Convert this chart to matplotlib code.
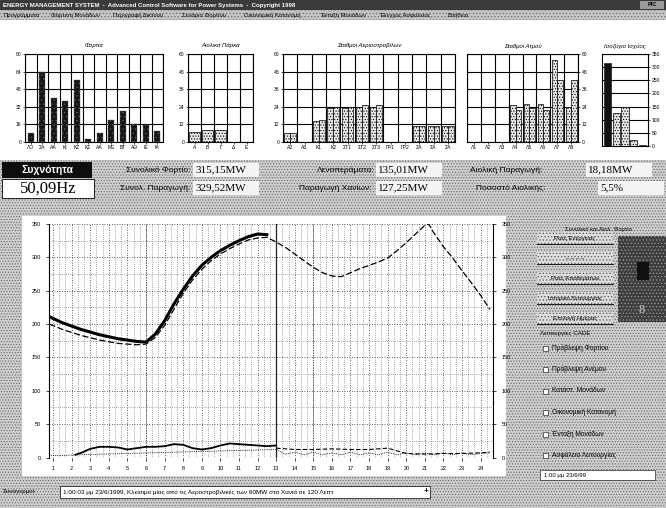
import numpy as np
import matplotlib.pyplot as plt
from matplotlib.patches import Rectangle

plt.rcParams['font.family'] = ['Liberation Sans', 'DejaVu Sans']
plt.rcParams['hatch.linewidth'] = 0.5

# ---- data ----
# top bar charts
units_load = ['ΛΟ', 'ΣΑ', 'ΑΑ', 'ΚΙ', 'ΚΖ', 'ΚΣ', 'ΑΑ', 'ΜΕ', 'ΒΤ', 'ΑΘ', 'ΙΕ', 'ΙΑ']
load_mw = [8.5, 64, 40, 37, 56, 2.5, 8.5, 20, 28, 16, 15, 10]

wind_parks = ['Α', 'Β', 'Γ', 'Δ', 'Ε']
wind_mw = [7, 8, 8, 0, 0]

gas_units = ['Α2', 'Α3', 'Κ1', 'Κ2', 'ΣΤ1', 'ΣΤ2', 'ΣΤ3', 'ΓΡ1', 'ΓΡ2', 'ΣΑ', 'ΣΑ', 'ΣΑ']
gas_a = [6, 0, 14, 23, 23, 24, 24, 0, 0, 11, 11, 11]
gas_b = [6, 0, 15, 24, 24, 25, 25, 0, 0, 11, 11, 11]

steam_units = ['Λ1', 'Λ2', 'Λ3', 'Λ4', 'Λ5', 'Λ6', 'Λ7', 'Λ8']
steam_a = [0, 0, 0, 25, 26, 26, 56, 24]
steam_b = [0, 0, 0, 22, 23, 22, 42, 42]

balance_mw = [315, 125, 148, 22, 5]

# main chart: hourly load (actual until current time, forecast for the day)
hours_actual = [0.8, 1.5, 2.5, 3.5, 4.5, 5.5, 6.0, 6.5, 7.0, 7.5, 8.0, 8.5, 9.0,
                9.5, 10.0, 10.5, 11.0, 11.5, 12.0, 12.5]
load_actual = [211, 202, 192, 184, 178, 174, 173, 185, 205, 230, 252, 272, 288,
               300, 310, 318, 325, 331, 335, 334]

hours_fc = [0.8, 1.5, 2.5, 3.5, 4.5, 5.5, 6.0, 6.5, 7.0, 7.5, 8.0, 8.5, 9.0, 9.5,
            10.0, 10.5, 11.0, 11.5, 12.0, 12.5, 13.0, 13.5, 14.0, 14.5, 15.0,
            15.5, 16.0, 16.5, 17.0, 17.5, 18.0, 18.5, 19.0, 19.5, 20.0, 20.5,
            21.0, 21.2, 21.5, 22.0, 22.5, 23.0, 23.5, 24.0, 24.5]
load_fc = [200, 192, 183, 176, 171, 169, 170, 180, 198, 222, 246, 266, 282, 295,
           305, 313, 320, 326, 329, 330, 323, 315, 305, 295, 285, 277, 272, 271,
           277, 283, 288, 293, 299, 310, 322, 335, 348, 350, 336, 316, 299, 280,
           262, 243, 222]

hours_wind = [2.2, 2.6, 3.0, 3.5, 4.0, 4.5, 5.0, 5.5, 6.0, 6.5, 7.0, 7.5, 8.0,
              8.5, 9.0, 9.5, 10.0, 10.5, 11.0, 11.5, 12.0, 12.5, 13.0]
wind_actual = [4, 8, 13, 16, 16, 15, 12, 14, 16, 16, 17, 20, 19, 14, 12, 14, 18,
               21, 20, 19, 18, 17, 18]

hours_wfc = [13.0, 14.0, 15.0, 16.0, 17.0, 18.0, 19.0, 19.5, 20.0, 21.0, 22.0,
             23.0, 24.0, 24.5]
wind_fc = [14, 12, 12, 13, 12, 12, 14, 10, 6, 5, 6, 6, 7, 8]

hours_wfc2 = [0.8, 1.5, 2.2, 13.0, 13.5, 14.0, 14.5, 15.0, 15.5, 16.0, 16.5,
              17.0, 17.5, 18.0, 18.5, 19.0, 19.5, 20.0, 20.5, 21.0, 21.5, 22.0,
              22.5, 23.0, 23.5, 24.0, 24.5]
wind_fc2 = [3, 3, 4, 12, 5, 8, 4, 8, 4, 7, 4, 8, 4, 7, 4, 8, 4, 7, 4, 7, 4, 7,
            4, 7, 4, 6, 7]

now_hour = 13.0
hour_labels = [str(h) for h in range(1, 25)]

W, H = 666, 508
fig = plt.figure(figsize=(6.66, 5.08), dpi=100)


def rect(x0, y0, x1, y1):
    return [x0 / W, 1 - y1 / H, (x1 - x0) / W, (y1 - y0) / H]


bg = fig.add_axes([0, 0, 1, 1])
bg.set_xlim(0, W)
bg.set_ylim(H, 0)
bg.axis('off')


def box(x0, y0, x1, y1, fc='white', ec='none', hatch=None, lw=0.0, z=1):
    bg.add_patch(Rectangle((x0, y0), x1 - x0, y1 - y0, facecolor=fc,
                           edgecolor=ec, hatch=hatch, lw=lw, zorder=z))


def txt(x, y, s, size=5, ha='left', color='black', weight='normal', family=None, z=5):
    kw = {}
    if family:
        kw['family'] = family
    bg.text(x, y, s, fontsize=size, ha=ha, va='center', color=color,
            fontweight=weight, zorder=z, **kw)


# stippled background
box(0, 0, W, H, fc='#cfcfcf', ec='#666666', hatch='......')
box(0, 20, W, 160, fc='white')

# title bar + menu
box(0, 0, W, 10, fc='#3a3a3a', z=2)
txt(3, 5, 'ENERGY MANAGEMENT SYSTEM  -  Advanced Control Software for Power Systems  -  Copyright 1998',
    size=4.3, color='white', weight='bold')
box(640, 1, 664, 9, fc='#9a9a9a', z=3)
txt(652, 5, 'PIC', size=4, ha='center', color='black', weight='bold')
box(0, 10, W, 20, fc='#c4c4c4', ec='#6e6e6e', hatch='.....', z=2)
menu = ['Προγράμματα', 'Φόρτιση Μονάδων', 'Περιγραφή Δικτύου', 'Σενάρια Φορτίου',
        'Οικονομική Κατανομή', 'Ένταξη Μονάδων', 'Έλεγχος Ασφαλείας', 'Βοήθεια']
mx = 3
for m in menu:
    txt(mx, 15, m, size=4.2)
    mx += len(m) * 3.6 + 8

dots = dict(color='#e8e8e8', edgecolor='black', hatch='......', lw=0.5)


def top_chart(x0, y0, x1, y1, ymax, step, title, right=False):
    ax = fig.add_axes(rect(x0, y0, x1, y1))
    ax.set_ylim(0, ymax)
    ax.set_yticks(np.arange(0, ymax + 1, step))
    ax.grid(True, axis='y', color='black', lw=0.8)
    ax.grid(True, axis='x', which='minor', color='black', lw=0.8)
    ax.set_axisbelow(True)
    ax.tick_params(labelsize=3.6, length=1.5, width=0.5, pad=1)
    ax.tick_params(axis='x', which='minor', length=0)
    if right:
        ax.yaxis.tick_right()
    for s in ax.spines.values():
        s.set_linewidth(0.8)
    bg.text((x0 + x1) / 2, y0 - 8, title, fontsize=4.3, ha='center', va='center',
            style='italic')
    return ax


# chart 1 - loads
ax1 = top_chart(25, 54, 163, 142, 80, 16, 'Φορτία')
x = np.arange(len(load_mw))
ax1.bar(x, load_mw, width=0.5, color='#151515', edgecolor='#5a5a5a', hatch='....', lw=0.3)
ax1.set_xlim(-0.5, len(load_mw) - 0.5)
ax1.set_xticks(x, units_load)
ax1.set_xticks(np.arange(-0.5, len(load_mw)), minor=True)

# chart 2 - wind parks
ax2 = top_chart(188, 54, 253, 142, 60, 12, 'Αιολικά Πάρκα')
x = np.arange(len(wind_mw))
ax2.bar(x, wind_mw, width=0.8, **dots)
ax2.set_xlim(-0.5, len(wind_mw) - 0.5)
ax2.set_xticks(x, wind_parks)
ax2.set_xticks(np.arange(-0.5, len(wind_mw)), minor=True)

# chart 3 - gas turbines
ax3 = top_chart(283, 54, 455, 142, 60, 12, 'Σταθμοί Αεριοστροβίλων')
x = np.arange(len(gas_a))
ax3.bar(x - 0.2, gas_a, width=0.4, **dots)
ax3.bar(x + 0.2, gas_b, width=0.4, **dots)
ax3.set_xlim(-0.5, len(gas_a) - 0.5)
ax3.set_xticks(x, gas_units)
ax3.set_xticks(np.arange(-0.5, len(gas_a)), minor=True)

# chart 4 - steam units
ax4 = top_chart(467, 54, 578, 142, 60, 12, 'Σταθμοί Ατμού', right=True)
x = np.arange(len(steam_a))
ax4.bar(x - 0.2, steam_a, width=0.4, **dots)
ax4.bar(x + 0.2, steam_b, width=0.4, **dots)
ax4.set_xlim(-0.5, len(steam_a) - 0.5)
ax4.set_xticks(x, steam_units)
ax4.set_xticks(np.arange(-0.5, len(steam_a)), minor=True)

# chart 5 - power balance
ax5 = top_chart(602, 54, 648, 146, 350, 50, 'Ισοζύγιο Ισχύος', right=True)
x = np.arange(len(balance_mw))
ax5.bar(x[:1], balance_mw[:1], width=0.8, color='#111111', edgecolor='black', lw=0.4)
ax5.bar(x[1:], balance_mw[1:], width=0.8, **dots)
ax5.set_xlim(-0.6, len(balance_mw) - 0.4)
ax5.set_xticks([])
ax5.grid(False, axis='x', which='minor')

# info panel
box(2, 162, 92, 178, fc='#0d0d0d', z=2)
txt(47, 170, 'Συχνότητα', size=7.5, ha='center', color='white', weight='bold')
box(2, 179, 94, 198, fc='white', ec='black', lw=0.6, z=2)
txt(48, 188.5, '50,09Hz', size=12, ha='center', family='Liberation Serif')

rows = [
    (170, [('Συνολικό Φορτίο:', 190, '315,15MW', 195),
           ('Λενοπεράματα:', 375, '135,01MW', 378),
           ('Αιολική Παραγωγή:', 542, '18,18MW', 588)]),
    (188, [('Συνολ. Παραγωγή:', 190, '329,52MW', 195),
           ('Παραγωγή Χανίων:', 372, '127,25MW', 378),
           ('Ποσοστό Αιολικής:', 545, '5,5%', 600)]),
]
for yy, items in rows:
    for lab, lx, val, vx in items:
        txt(lx, yy, lab, size=6, ha='right')
        box(vx - 2, yy - 7, vx + 64, yy + 7, fc='#f4f4f4', z=2)
        txt(vx, yy, val, size=8, family='Liberation Serif')

# main chart panel
box(22, 216, 506, 476, fc='white', z=2)

ax = fig.add_axes(rect(49, 224, 493, 457.5))
ax.set_xlim(0.78, 24.66)
ax.set_ylim(0, 350)
ax.set_xticks(range(1, 25), hour_labels)
ax.set_xticks(np.arange(1, 24.7, 1 / 3), minor=True)
ax.set_yticks(range(0, 351, 50))
ax.set_yticks(range(0, 351, 25), minor=True)
ax.grid(True, which='major', color='#333333', ls=(0, (1, 2)), lw=0.6)
ax.grid(True, which='minor', color='#555555', ls=(0, (1, 2)), lw=0.5)
ax.tick_params(labelsize=4, length=2, width=0.5, pad=4)
ax.tick_params(which='minor', length=0)
ax.spines['top'].set_visible(False)
ax.spines['bottom'].set_visible(False)
ax.spines['left'].set_linewidth(0.8)
ax.spines['right'].set_linewidth(0.8)

for vx in (6, 15):
    ax.axvline(vx, color='#444444', ls=(0, (2, 1.5)), lw=0.5)
ax.axvline(now_hour, color='#222222', lw=0.9)

ax.plot(hours_fc, load_fc, color='black', lw=0.9, ls=(0, (5, 2)))
ax.plot(hours_actual, load_actual, color='black', lw=2.2)
ax.plot(hours_wfc2, wind_fc2, color='black', lw=0.6, ls=(0, (1, 1.2)))
ax.plot(hours_wfc, wind_fc, color='black', lw=0.8, ls=(0, (4, 2)))
ax.plot(hours_wind, wind_actual, color='black', lw=1.3)

axr = ax.twinx()
axr.set_ylim(0, 350)
axr.set_yticks(range(0, 351, 50))
axr.tick_params(labelsize=4, length=2, width=0.5, pad=4)
for s in axr.spines.values():
    s.set_visible(False)

# right control panel
txt(598, 229, 'Συνολικό και Αιολ. Φορτίο', size=4.2, ha='center')
box(618, 236, 666, 322, fc='#3e3e3e', ec='#9a9a9a', hatch='.....', z=2)
box(637, 262, 649, 280, fc='#111111', z=3)
txt(642, 310, '8', size=9, ha='center', color='#cfcfcf', family='Liberation Serif')
buttons = ['Ροές Ενέργειας', '', 'Ροές Αποθεμάτων', 'Ιστορικό Λειτουργίας', 'Επιλογή Ημέρας']
for i, b in enumerate(buttons):
    yb = 238 + i * 20
    box(537, yb - 6, 613, yb + 6, fc='#dcdcdc', ec='#555555', hatch='.....', lw=0, z=3)
    bg.plot([537, 613], [yb + 6, yb + 6], color='black', lw=0.6, zorder=4)
    txt(575, yb, b if b else '– – – –', size=4.3, ha='center', z=6)
txt(540, 333, 'Λειτουργίες CADE', size=4.5)
checks = ['Πρόβλεψη Φορτίου', 'Πρόβλεψη Ανέμου', 'Κατάστ. Μονάδων',
          'Οικονομική Κατανομή', 'Ένταξη Μονάδων', 'Ασφάλεια Λειτουργίας']
for i, c in enumerate(checks):
    yc = 348 + i * 21.5
    box(543, yc - 2.5, 548, yc + 2.5, fc='white', ec='black', lw=0.4, z=3)
    txt(552, yc, c, size=4.8, z=6)

box(540, 470, 655, 480, fc='white', ec='black', lw=0.4, z=2)
txt(544, 475, '1:00 μμ 23/6/99', size=4.3)

# status bar
txt(3, 492, 'Συναγερμοί:', size=4.5)
box(60, 486, 430, 498, fc='white', ec='black', lw=0.5, z=2)
txt(63, 492, '1:00:03 μμ 23/6/1999, Κλείσιμο μίας από τις Αεροστροβιλικές των 60MW στα Χανιά σε 120 Λεπτ',
    size=4.6)
txt(426, 492, '+', size=6, ha='center', weight='bold')

fig.savefig('out.png', dpi=100)
